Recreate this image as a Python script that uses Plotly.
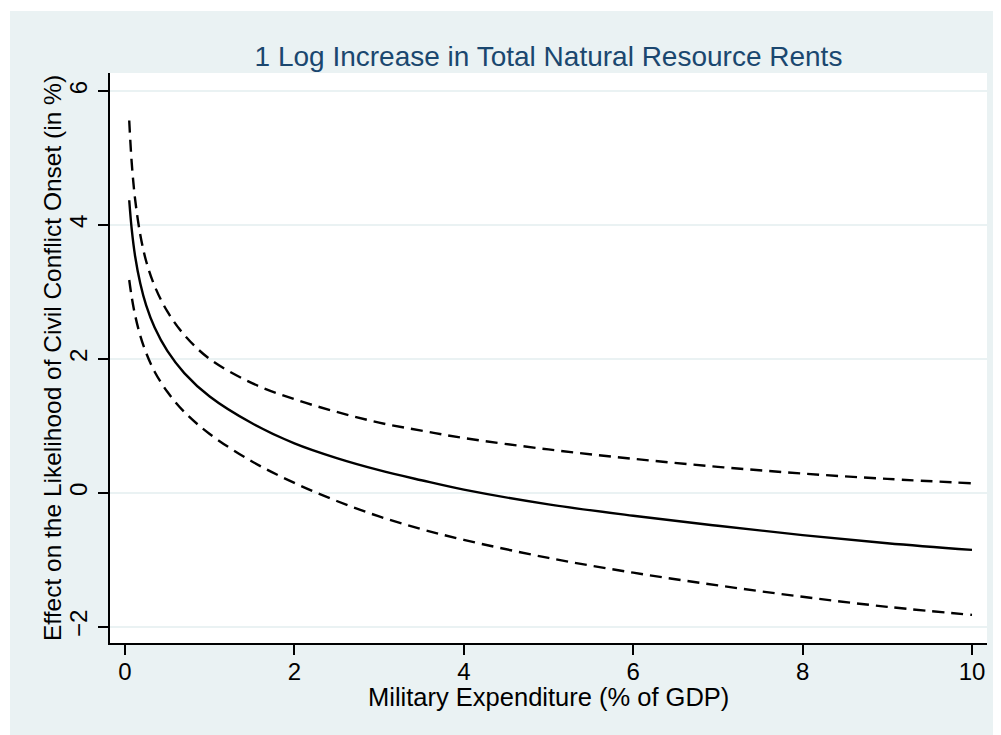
import plotly.graph_objects as go

# Values
mil_exp = [0.05, 0.08, 0.12, 0.18, 0.25, 0.35, 0.5, 0.7, 1.0, 1.5, 2.0, 2.5, 3.0,
           3.5, 4.0, 5.0, 6.0, 7.0, 8.0, 9.0, 10.0]
effect = [4.37, 3.93, 3.53, 3.13, 2.80, 2.47, 2.12, 1.79, 1.44, 1.04, 0.74, 0.52, 0.34,
          0.19, 0.05, -0.17, -0.34, -0.49, -0.63, -0.75, -0.85]
upper = [5.56, 4.92, 4.38, 3.86, 3.46, 3.09, 2.71, 2.36, 2.00, 1.64, 1.40, 1.21, 1.05,
         0.93, 0.82, 0.65, 0.51, 0.39, 0.29, 0.21, 0.145]
lower = [3.18, 2.92, 2.65, 2.35, 2.09, 1.81, 1.51, 1.21, 0.88, 0.47, 0.15, -0.12, -0.35,
         -0.54, -0.70, -0.97, -1.19, -1.38, -1.55, -1.70, -1.82]

x_ticks = [0, 2, 4, 6, 8, 10]
y_ticks = [-2, 0, 2, 4, 6]

title_text = "1 Log Increase in Total Natural Resource Rents"
x_title = "Military Expenditure (% of GDP)"
y_title = "Effect on the Likelihood of Civil Conflict Onset (in %)"

BG = "#EAF2F3"
NAVY = "#1A476F"
FONT = "Liberation Sans, Arial, sans-serif"

# page body has an 8px margin; the figure is sized to fill the rest
W, H = 993, 727
L, T, R, B = 102, 65, 14, 92
PW = W - L - R
PH = H - T - B

fig = go.Figure()
fig.add_trace(go.Scatter(x=mil_exp, y=upper, mode="lines", line_shape="spline",
                         line=dict(color="black", width=2.4, dash="12px,7px"),
                         showlegend=False, hoverinfo="skip"))
fig.add_trace(go.Scatter(x=mil_exp, y=effect, mode="lines", line_shape="spline",
                         line=dict(color="black", width=2.4),
                         showlegend=False))
fig.add_trace(go.Scatter(x=mil_exp, y=lower, mode="lines", line_shape="spline",
                         line=dict(color="black", width=2.4, dash="12px,7px"),
                         showlegend=False, hoverinfo="skip"))

fig.update_layout(
    width=W, height=H,
    margin=dict(l=L, r=R, t=T, b=B, pad=0),
    paper_bgcolor=BG,
    plot_bgcolor="white",
    font=dict(family=FONT, color="black"),
    title=dict(text=title_text, x=0.5, xref="paper", xanchor="center",
               y=1 - 48 / H, yref="container", yanchor="middle",
               font=dict(family=FONT, size=28, color=NAVY)),
    xaxis=dict(range=[-0.177, 10.177], tickvals=x_ticks, showgrid=False,
               zeroline=False, showline=True, linecolor="black", linewidth=2,
               ticks="outside", ticklen=10, tickwidth=2, tickcolor="black",
               tickfont=dict(size=24, family=FONT, color="black"),
               ticklabelstandoff=-4, fixedrange=True),
    yaxis=dict(range=[-2.24, 6.27], tickvals=y_ticks, showgrid=True,
               gridcolor=BG, gridwidth=2, zeroline=False, showline=True,
               linecolor="black", linewidth=2, ticks="outside", ticklen=10,
               tickwidth=2, tickcolor="black", tickangle=-90,
               tickfont=dict(size=24, family=FONT, color="black"),
               ticklabelstandoff=1, fixedrange=True),
    annotations=[
        dict(text=x_title, xref="paper", yref="paper", x=0.5, y=-54 / PH,
             xanchor="center", yanchor="middle", showarrow=False,
             font=dict(family=FONT, size=25.5, color="black")),
        dict(text=y_title, xref="paper", yref="paper", x=-58 / PW, y=0.5,
             xanchor="center", yanchor="middle", showarrow=False, textangle=-90,
             font=dict(family=FONT, size=24.5, color="black")),
    ],
    shapes=[
        dict(type="rect", xref="paper", yref="paper", x0=-0.3, x1=1.3,
             y0=(PH + T - 3) / PH, y1=1.4, fillcolor="white", line=dict(width=0),
             layer="above"),
        dict(type="rect", xref="paper", yref="paper", x0=-0.3, x1=(2 - L) / PW,
             y0=-0.4, y1=1.4, fillcolor="white", line=dict(width=0),
             layer="above"),
    ],
)

fig.write_html("out.html")
